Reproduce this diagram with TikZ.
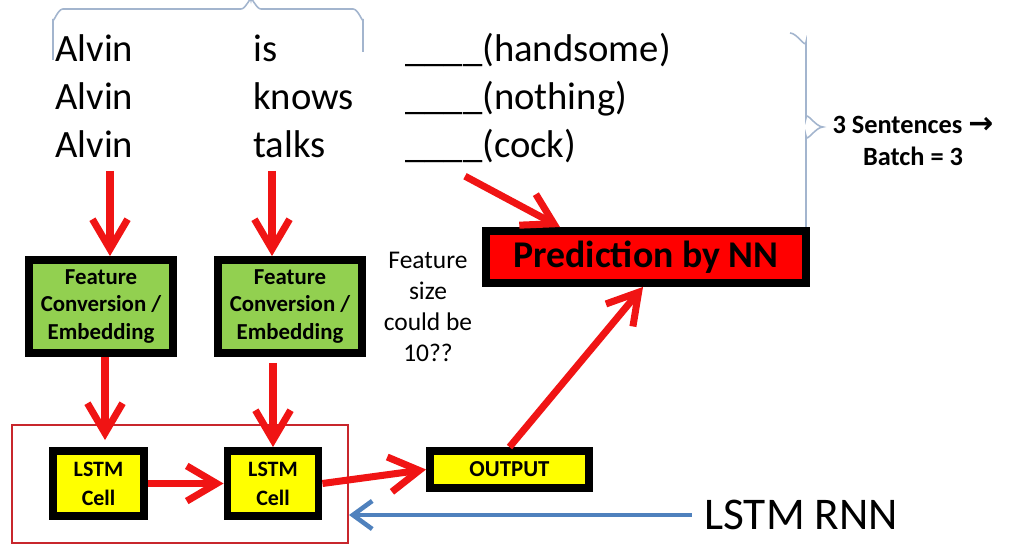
\documentclass[tikz,border=0pt]{standalone}
\usepackage{fontspec}
\setmainfont{Carlito}
\newfontfamily\arrowfont{DejaVu Sans}
\usetikzlibrary{arrows.meta,
                positioning}
\definecolor{featgreen}{HTML}{92D050}
\definecolor{cellyellow}{HTML}{FFFF00}
\definecolor{predred}{HTML}{FF0000}
\definecolor{linkred}{HTML}{F01414}
\definecolor{rnnred}{HTML}{C8262C}
\definecolor{bracegray}{HTML}{A3B5CE}
\definecolor{rnnblue}{HTML}{4F81BD}
\tikzset{word/.style =
   {anchor=base west,
    inner sep=0pt,
    font=\fontsize{22}{26}\selectfont}}
\tikzset{blockbox/.style =
   {rectangle,
    draw=black,
    line width=4.5pt,
    inner sep=0pt,
    align=center,
    text centered}}
\tikzset{featbox/.style =
   {blockbox,
    fill=featgreen,
    minimum width=2.88cm,
    minimum height=1.86cm,
    font=\bfseries\fontsize{13}{15.9}\selectfont}}
\tikzset{cellbox/.style =
   {blockbox,
    fill=cellyellow,
    minimum width=1.82cm,
    minimum height=1.30cm,
    font=\bfseries\fontsize{12.5}{16.4}\selectfont}}
\tikzset{link/.style = {draw=linkred, line width=4pt,
    -{Straight Barb[length=17pt,width=20pt]}}}
\tikzset{brace/.style = {draw=bracegray, line width=0.9pt}}

\begin{document}
\begin{tikzpicture}[x=0.02cm, y=-0.02cm]

    \useasboundingbox (0,0) rectangle (1018,546);

    % the three sentences
    \node [word] (alvin1) at (55,62)  {Alvin};
    \node [word] (alvin2) at (55,110) {Alvin};
    \node [word] (alvin3) at (55,158) {Alvin};
    \node [word] (verb1)  at (253,62)  {is};
    \node [word] (verb2)  at (253,110) {knows};
    \node [word] (verb3)  at (253,158) {talks};
    \node [word] (blank1) at (405,62)  {\_\_\_\_(handsome)};
    \node [word] (blank2) at (405,110) {\_\_\_\_(nothing)};
    \node [word] (blank3) at (405,158) {\_\_\_\_(cock)};

    % braces
    \draw [brace] (53,60) -- (53,19) to[out=-90,in=180] (63,9) -- (241,9)
        to[out=0,in=90] (251,0) to[out=90,in=180] (261,9) -- (353,9)
        to[out=0,in=-90] (363,19) -- (363,52);
    \draw [brace] (790,33) to[out=0,in=-90] (806,42) -- (806,118)
        to[out=90,in=180] (823,127) to[out=180,in=-90] (806,136) -- (806,228);

    \node [align=center, font=\bfseries\fontsize{15}{18}\selectfont] (batch)
        at (913,141) {3 Sentences {\arrowfont\bfseries\fontsize{17}{18}\selectfont →}\\Batch = 3};

    % blocks
    \node [featbox] (feat1) at (101,306.5) {Feature\\Conversion /\\Embedding};
    \node [featbox] (feat2) at (290,306.5) {Feature\\Conversion /\\Embedding};

    \node [align=center, font=\fontsize{14.5}{17.6}\selectfont] (featsize)
        at (428,307) {Feature\\size\\could be\\10??};

    \node [blockbox, fill=predred, minimum width=6.4cm, minimum height=1.04cm,
           font=\bfseries\fontsize{21.5}{24}\selectfont] (pred) at (646,257) {Prediction by NN};

    \node [draw=rnnred, line width=1.2pt, minimum width=6.72cm, minimum height=2.36cm]
        (rnnbox) at (180,484) {};

    \node [cellbox] (cell1) at (98.5,483.5) {LSTM\\Cell};
    \node [cellbox] (cell2) at (273,483.5)  {LSTM\\Cell};

    \node [blockbox, fill=cellyellow, minimum width=3.18cm, minimum height=0.74cm,
           font=\bfseries\fontsize{13}{15}\selectfont] (output) at (509.5,469.5) {OUTPUT};

    \node [anchor=west, inner sep=0pt, font=\fontsize{25.8}{30}\selectfont] (rnnlabel)
        at (704,515) {LSTM RNN};

    % connectors
    \path [link] ([xshift=0.18cm,yshift=-0.25cm]feat1.north |- alvin3.south) -- ([xshift=0.18cm]feat1.north);
    \path [link] ([xshift=-0.36cm,yshift=-0.25cm]feat2.north |- alvin3.south) -- ([xshift=-0.36cm]feat2.north);
    \path [link] ([xshift=1.2cm,yshift=-0.25cm]blank3.south west) -- ([xshift=-1.72cm]pred.north);
    \path [link] ([xshift=0.08cm]feat1.south) -- ([xshift=0.08cm,yshift=0.14cm]feat1.south |- cell1.north);
    \path [link] ([yshift=-0.12cm]feat2.south -| cell2.north) -- (cell2.north);
    \path [link] (cell1.east) -- (cell2.west);
    \path [link] (cell2.east) -- (output.west);
    \path [link] (output.north) -- ([xshift=-0.06cm]pred.south);
    \draw [draw=rnnblue, line width=2.6pt, -{Straight Barb[length=11pt,width=16pt]}]
        ([xshift=-0.25cm]rnnlabel.west) -- (rnnbox.east |- rnnlabel.west);

\end{tikzpicture}
\end{document}
